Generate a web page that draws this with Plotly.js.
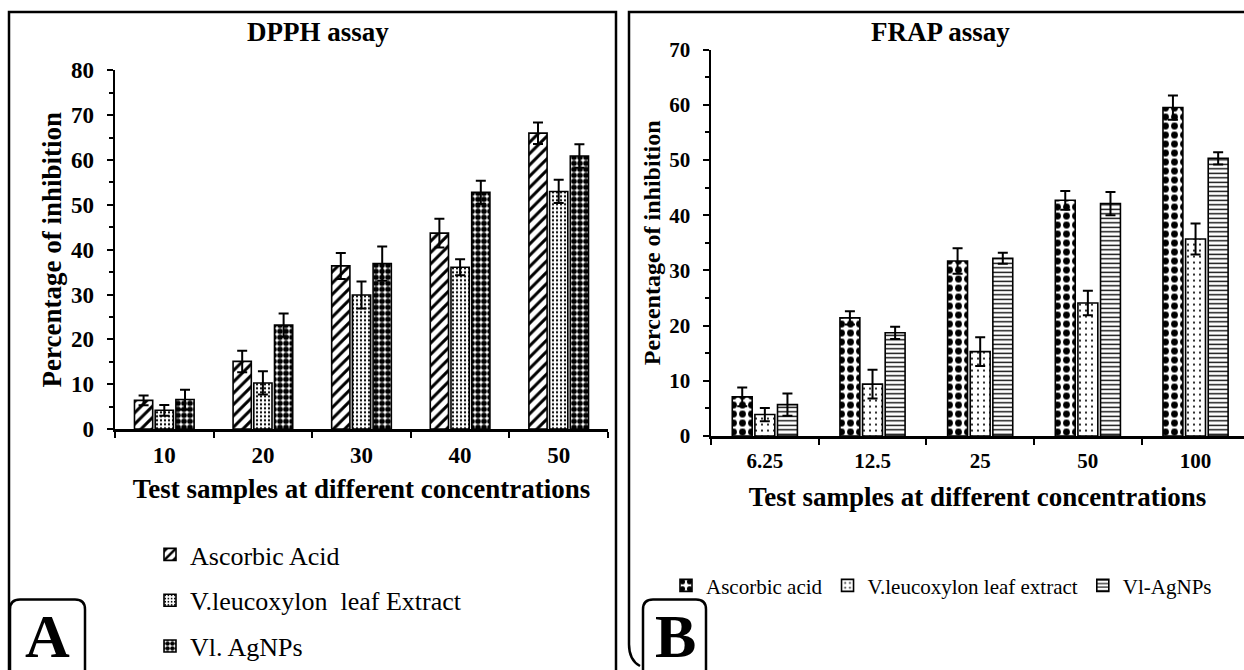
<!DOCTYPE html>
<html>
<head>
<meta charset="utf-8">
<script src="https://cdn.plot.ly/plotly-3.0.1.min.js"></script>
<style>html,body{margin:0;padding:0;background:#fff;}#chart{width:1244px;height:670px;}</style>
</head>
<body>
<div id="chart"></div>
<script>
// ---- DPPH assay (panel A) ----
const dpphConc = ['10', '20', '30', '40', '50'];
const dpphAscorbic = [6.4, 15.1, 36.4, 43.7, 66.0];
const dpphAscorbicErr = [1.1, 2.4, 2.9, 3.2, 2.4];
const dpphExtract = [4.2, 10.3, 29.9, 36.1, 53.0];
const dpphExtractErr = [1.2, 2.6, 3.0, 1.8, 2.6];
const dpphAgNPs = [6.6, 23.2, 36.9, 52.8, 60.9];
const dpphAgNPsErr = [2.2, 2.6, 3.8, 2.6, 2.6];

// ---- FRAP assay (panel B) ----
const frapConc = ['6.25', '12.5', '25', '50', '100'];
const frapAscorbic = [7.1, 21.4, 31.7, 42.7, 59.5];
const frapAscorbicErr = [1.7, 1.2, 2.3, 1.7, 2.2];
const frapExtract = [3.9, 9.4, 15.3, 24.1, 35.7];
const frapExtractErr = [1.2, 2.6, 2.6, 2.2, 2.8];
const frapAgNPs = [5.7, 18.7, 32.2, 42.1, 50.3];
const frapAgNPsErr = [2.0, 1.1, 1.0, 2.1, 1.1];

const dpphNames = ['Ascorbic Acid', 'V.leucoxylon  leaf Extract', 'Vl. AgNPs'];
const frapNames = ['Ascorbic acid', 'V.leucoxylon leaf extract', 'Vl-AgNPs'];

const FONT = "'Liberation Serif', 'Times New Roman', serif";
const W = 1244, H = 670;
const px = x => x / W;
const py = y => 1 - y / H;

function bar(x, y, err, name, pattern, xa, ya, legend, group) {
  return {
    type: 'bar', x: x, y: y, name: name, xaxis: xa, yaxis: ya,
    legend: legend, legendgroup: group,
    marker: {
      color: 'white',
      line: {color: 'black', width: 1.6},
      pattern: Object.assign({fgcolor: 'black', bgcolor: 'white', fillmode: 'replace'}, pattern)
    },
    error_y: {type: 'data', array: err, visible: true, color: 'black', thickness: 2, width: 5},
    hoverinfo: 'x+y'
  };
}

const data = [
  bar(dpphConc, dpphAscorbic, dpphAscorbicErr, dpphNames[0], {shape: '/', size: 8, solidity: 0.38}, 'x', 'y', 'legend', 'a'),
  bar(dpphConc, dpphExtract, dpphExtractErr, dpphNames[1], {shape: '.', size: 4, solidity: 0.25}, 'x', 'y', 'legend', 'b'),
  bar(dpphConc, dpphAgNPs, dpphAgNPsErr, dpphNames[2], {shape: '.', size: 6, solidity: 0.68}, 'x', 'y', 'legend', 'c'),
  bar(frapConc, frapAscorbic, frapAscorbicErr, frapNames[0], {shape: '.', size: 9, solidity: 0.45}, 'x2', 'y2', 'legend2', 'd'),
  bar(frapConc, frapExtract, frapExtractErr, frapNames[1], {shape: '.', size: 6, solidity: 0.1}, 'x2', 'y2', 'legend2', 'e'),
  bar(frapConc, frapAgNPs, frapAgNPsErr, frapNames[2], {shape: '-', size: 4.5, solidity: 0.3}, 'x2', 'y2', 'legend2', 'f')
];

const tickFontL = {family: FONT, size: 23, color: 'black', weight: 'bold'};
const tickFontR = {family: FONT, size: 21, color: 'black', weight: 'bold'};

function xaxisDef(domain, anchor, range, tf, titleSize, standoff) {
  return {
    domain: domain, anchor: anchor, type: 'category', range: range,
    showline: true, linecolor: 'black', linewidth: 2.5,
    ticks: 'outside', tickson: 'boundaries', ticklen: 6, tickwidth: 2, tickcolor: 'black',
    tickfont: tf, showgrid: false, zeroline: false, fixedrange: true,
    ticklabelstandoff: 4,
    title: {text: 'Test samples at different concentrations', standoff: standoff,
            font: {family: FONT, size: titleSize, color: 'black', weight: 'bold'}}
  };
}
function yaxisDef(domain, anchor, range, tf, titleSize, standoff) {
  return {
    domain: domain, anchor: anchor, range: range, dtick: 10,
    showline: true, linecolor: 'black', linewidth: 2.5,
    ticks: 'outside', ticklen: 6, tickwidth: 2, tickcolor: 'black',
    minor: {dtick: 5, ticks: 'outside', ticklen: 4, tickwidth: 2, tickcolor: 'black'},
    tickfont: tf, showgrid: false, zeroline: false, fixedrange: true,
    ticklabelstandoff: 8,
    title: {text: 'Percentage of inhibition', standoff: standoff,
            font: {family: FONT, size: titleSize, color: 'black', weight: 'bold'}}
  };
}

function rounded(x0, x1, yTop, yBot, r) {
  return 'M' + px(x0) + ',' + py(yBot) +
    ' L' + px(x0) + ',' + py(yTop + r) +
    ' Q' + px(x0) + ',' + py(yTop) + ' ' + px(x0 + r) + ',' + py(yTop) +
    ' L' + px(x1 - r) + ',' + py(yTop) +
    ' Q' + px(x1) + ',' + py(yTop) + ' ' + px(x1) + ',' + py(yTop + r) +
    ' L' + px(x1) + ',' + py(yBot);
}

const layout = {
  width: W, height: H,
  margin: {l: 0, r: 0, t: 0, b: 0},
  paper_bgcolor: 'white', plot_bgcolor: 'rgba(0,0,0,0)',
  font: {family: FONT, color: 'black'},
  barmode: 'group', bargap: 0.37, bargroupgap: 0.12,
  showlegend: true,
  xaxis: xaxisDef([px(115), px(608)], 'y', [-0.5, 4.5], tickFontL, 27, 12),
  yaxis: yaxisDef([py(433), py(71)], 'x', [0, 80], tickFontL, 27, 2),
  xaxis2: xaxisDef([px(711), 1], 'y2', [-0.5, 4.45], tickFontR, 27, 16),
  yaxis2: yaxisDef([py(440), py(50)], 'x2', [0, 70], tickFontR, 24, 2),
  legend: {
    x: px(150), y: py(536), xanchor: 'left', yanchor: 'top', orientation: 'v',
    font: {family: FONT, size: 26, color: 'black'}, tracegroupgap: 9,
    bgcolor: 'rgba(0,0,0,0)', borderwidth: 0
  },
  legend2: {
    x: px(666), y: py(591), xanchor: 'left', yanchor: 'middle', orientation: 'h',
    font: {family: FONT, size: 21, color: 'black'},
    bgcolor: 'rgba(0,0,0,0)', borderwidth: 0
  },
  annotations: [
    {text: 'DPPH assay', xref: 'paper', yref: 'paper', x: px(318), y: py(32), showarrow: false,
     xanchor: 'center', yanchor: 'middle', font: {family: FONT, size: 27, color: 'black', weight: 'bold'}},
    {text: 'FRAP assay', xref: 'paper', yref: 'paper', x: px(940), y: py(32), showarrow: false,
     xanchor: 'center', yanchor: 'middle', font: {family: FONT, size: 27, color: 'black', weight: 'bold'}},
    {text: 'A', xref: 'paper', yref: 'paper', x: px(47), y: py(642), showarrow: false,
     xanchor: 'center', yanchor: 'middle', font: {family: FONT, size: 62, color: 'black', weight: 'bold'}},
    {text: 'B', xref: 'paper', yref: 'paper', x: px(675), y: py(642), showarrow: false,
     xanchor: 'center', yanchor: 'middle', font: {family: FONT, size: 62, color: 'black', weight: 'bold'}}
  ],
  shapes: [
    {type: 'rect', xref: 'paper', yref: 'paper', x0: px(9), x1: px(616), y0: py(680), y1: py(12),
     line: {color: 'black', width: 2.5}, fillcolor: 'rgba(0,0,0,0)'},
    {type: 'path', xref: 'paper', yref: 'paper',
     path: 'M' + px(1250) + ',' + py(12) + ' L' + px(629) + ',' + py(12) + ' L' + px(629) + ',' + py(650) +
           ' Q' + px(629) + ',' + py(666) + ' ' + px(640) + ',' + py(672),
     line: {color: 'black', width: 2.5}},
    {type: 'path', xref: 'paper', yref: 'paper', path: rounded(10, 85, 605, 680, 10),
     line: {color: 'black', width: 2.5}},
    {type: 'path', xref: 'paper', yref: 'paper', path: rounded(643, 706, 605, 680, 10),
     line: {color: 'black', width: 2.5}}
  ]
};

Plotly.newPlot('chart', data, layout, {displayModeBar: false, staticPlot: true});
</script>
</body>
</html>
